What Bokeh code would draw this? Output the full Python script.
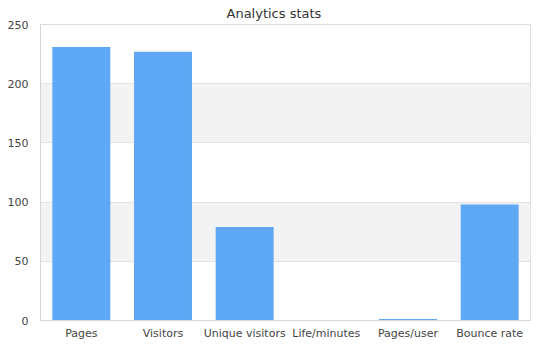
from bokeh.plotting import figure
from bokeh.models import ColumnDataSource, FactorRange, Range1d, FixedTicker
from bokeh.embed import file_html
from bokeh.resources import INLINE

categories = ["Pages", "Visitors", "Unique visitors", "Life/minutes", "Pages/user", "Bounce rate"]
values = [231, 227, 79, 0.3, 1.2, 98]
y_ticks = [0, 50, 100, 150, 200, 250]

src = ColumnDataSource(data=dict(cat=categories, val=values))

p = figure(width=550, height=350, x_range=FactorRange(*categories, range_padding=0),
           y_range=Range1d(0, 250), output_backend="svg", toolbar_location=None,
           min_border_left=40, min_border_right=20, min_border_top=0, min_border_bottom=30)
p.title.text = "Analytics stats"
p.title.align = "left"
p.title.offset = 186
p.title.standoff = 7
p.title.text_font = "DejaVu Sans"
p.title.text_font_size = "13px"
p.title.text_font_style = "normal"
p.title.text_color = "#333333"

p.vbar(x="cat", top="val", width=0.71, source=src, color="#5fa8f5", line_color=None)

p.outline_line_color = "#dddddd"
p.xgrid.grid_line_color = None
p.ygrid.grid_line_color = "#e3e3e3"
p.ygrid.band_fill_color = "#f3f3f3"
p.ygrid.band_fill_alpha = 1.0
p.yaxis.ticker = FixedTicker(ticks=y_ticks)
for ax in (p.xaxis, p.yaxis):
    ax.axis_line_color = "#d5d5d5"
    ax.major_tick_line_color = None
    ax.minor_tick_line_color = None
    ax.major_label_text_font = "DejaVu Sans"
    ax.major_label_text_font_size = "11px"
    ax.major_label_text_color = "#444444"
p.yaxis.major_label_standoff = 6
p.xaxis.major_label_standoff = 0

open("out.html", "w").write(file_html(p, INLINE))
